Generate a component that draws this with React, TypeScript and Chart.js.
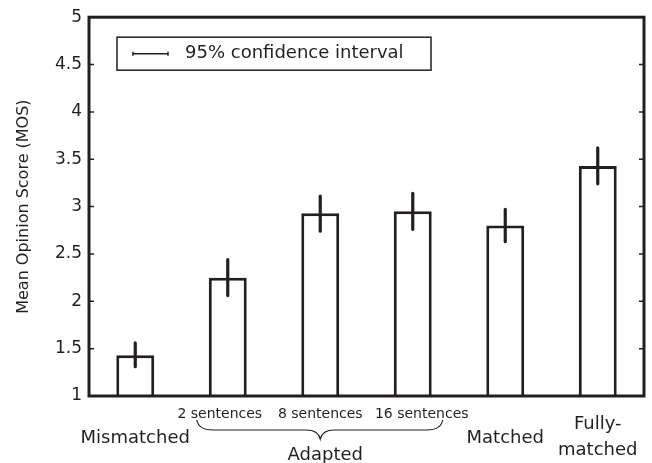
import React, { useEffect, useRef } from "react";
import { Chart, registerables } from "chart.js";

Chart.register(...registerables);

const categories = ["Mismatched", "2 sentences", "8 sentences", "16 sentences", "Matched", "Fully-matched"];
const meanScores = [1.43, 2.25, 2.93, 2.95, 2.8, 3.43];
const ciLow = [1.31, 2.06, 2.74, 2.76, 2.63, 3.24];
const ciHigh = [1.56, 2.44, 3.11, 3.14, 2.97, 3.62];
const subLabels = ["", "2 sentences", "8 sentences", "16 sentences", "", ""];
const mainLabels = [["Mismatched"], [], [], [], ["Matched"], ["Fully-", "matched"]];
const groupLabel = "Adapted";
const legendText = "95% confidence interval";
const yTitle = "Mean Opinion Score (MOS)";
const yMin = 1;
const yMax = 5;
const yStep = 0.5;

const INK = "#231f20";
const FONT = "'DejaVu Sans', 'Open Sans', sans-serif";

const overlayPlugin = {
  id: "overlay",
  afterDatasetsDraw(chart: any) {
    const ctx = chart.ctx;
    const xs = chart.scales.x;
    const ys = chart.scales.y;
    const a = chart.chartArea;
    ctx.save();
    ctx.strokeStyle = INK;
    ctx.fillStyle = INK;

    // error bars
    ctx.lineWidth = 3.2;
    ctx.lineCap = "round";
    for (let i = 0; i < categories.length; i++) {
      const cx = xs.getPixelForValue(i);
      ctx.beginPath();
      ctx.moveTo(cx, ys.getPixelForValue(ciLow[i]));
      ctx.lineTo(cx, ys.getPixelForValue(ciHigh[i]));
      ctx.stroke();
    }
    ctx.lineCap = "butt";

    // frame
    ctx.lineWidth = 3;
    ctx.strokeRect(a.left, a.top, a.right - a.left, a.bottom - a.top);

    // inward ticks
    ctx.lineWidth = 1.5;
    ys.ticks.forEach((t: any) => {
      const py = ys.getPixelForValue(t.value);
      ctx.beginPath();
      ctx.moveTo(a.left, py);
      ctx.lineTo(a.left + 5, py);
      ctx.moveTo(a.right, py);
      ctx.lineTo(a.right - 5, py);
      ctx.stroke();
    });

    // legend box
    const lx = a.left + 28;
    const ly = a.top + 20;
    const lw = 314;
    const lh = 33;
    ctx.lineWidth = 1.5;
    ctx.strokeRect(lx, ly, lw, lh);
    const my = ly + lh / 2;
    ctx.lineWidth = 1.5;
    ctx.beginPath();
    ctx.moveTo(lx + 16, my);
    ctx.lineTo(lx + 51, my);
    ctx.moveTo(lx + 16, my - 2);
    ctx.lineTo(lx + 16, my + 2);
    ctx.moveTo(lx + 51, my - 2);
    ctx.lineTo(lx + 51, my + 2);
    ctx.stroke();
    ctx.font = `18px ${FONT}`;
    ctx.textAlign = "left";
    ctx.textBaseline = "middle";
    ctx.fillText(legendText, lx + 68, my);

    // category labels
    ctx.textAlign = "center";
    ctx.textBaseline = "alphabetic";
    const subOffsets = [0, -8, 0, 9, 0, 0];
    ctx.font = `14px ${FONT}`;
    subLabels.forEach((s, i) => {
      if (!s) return;
      ctx.fillText(s, xs.getPixelForValue(i) + subOffsets[i], a.bottom + 22);
    });
    ctx.font = `18px ${FONT}`;
    mainLabels.forEach((lines, i) => {
      const cx = xs.getPixelForValue(i);
      if (lines.length === 1) {
        ctx.fillText(lines[0], cx, a.bottom + 47);
      } else if (lines.length === 2) {
        ctx.fillText(lines[0], cx, a.bottom + 33);
        ctx.fillText(lines[1], cx, a.bottom + 59);
      }
    });

    // brace under adapted group
    const bl = xs.getPixelForValue(1) - 31;
    const br = xs.getPixelForValue(3) + 30;
    const bm = xs.getPixelForValue(2);
    const by0 = a.bottom + 24;
    const by1 = a.bottom + 34;
    const by2 = a.bottom + 43;
    ctx.lineWidth = 1.2;
    ctx.beginPath();
    ctx.moveTo(bl, by0);
    ctx.quadraticCurveTo(bl + 2, by1, bl + 16, by1);
    ctx.lineTo(bm - 14, by1);
    ctx.quadraticCurveTo(bm - 2, by1, bm, by2);
    ctx.quadraticCurveTo(bm + 2, by1, bm + 14, by1);
    ctx.lineTo(br - 16, by1);
    ctx.quadraticCurveTo(br - 2, by1, br, by0);
    ctx.stroke();
    ctx.font = `18px ${FONT}`;
    ctx.fillText(groupLabel, bm + 5, a.bottom + 64);

    ctx.restore();
  },
};

export default function App() {
  const ref = useRef<HTMLCanvasElement | null>(null);
  useEffect(() => {
    if (!ref.current) return;
    const chart = new Chart(ref.current, {
      type: "bar",
      data: {
        labels: categories,
        datasets: [
          {
            data: meanScores,
            backgroundColor: "#ffffff",
            borderColor: INK,
            borderWidth: 3,
            barPercentage: 0.41,
            categoryPercentage: 1,
          },
        ],
      },
      options: {
        responsive: false,
        animation: false,
        layout: { padding: { left: 0, top: 16, right: 8, bottom: 67 } },
        plugins: { legend: { display: false }, tooltip: { enabled: false } },
        scales: {
          x: { display: false },
          y: {
            min: yMin,
            max: yMax,
            afterFit: (s: any) => {
              s.width = 89;
            },
            ticks: {
              stepSize: yStep,
              color: INK,
              padding: 7,
              font: { family: FONT, size: 17 },
              callback: (v: any) => String(Number(v)),
            },
            grid: { display: false, drawTicks: false },
            border: { display: false },
            title: {
              display: true,
              text: yTitle,
              color: INK,
              font: { family: FONT, size: 16 },
              padding: { top: 14, bottom: 0 },
            },
          },
        },
      },
      plugins: [overlayPlugin],
    });
    return () => chart.destroy();
  }, []);
  return (
    <div style={{ position: "fixed", left: 0, top: 0, width: 652, height: 463, background: "#fff" }}>
      <canvas ref={ref} width={652} height={463} style={{ width: 652, height: 463 }} />
    </div>
  );
}
